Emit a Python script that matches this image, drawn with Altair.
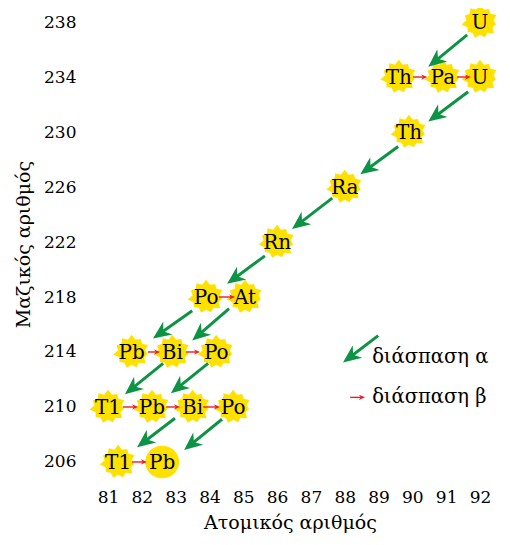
import math
import altair as alt
import pandas as pd

# ---------------- data ----------------
elements = ["U", "Th", "Pa", "U", "Th", "Ra", "Rn", "Po", "At",
            "Pb", "Bi", "Po", "T1", "Pb", "Bi", "Po", "T1", "Pb"]
atomic_no = [92.0, 89.6, 90.9, 92.0, 89.9, 88.0, 86.0, 83.9, 85.05,
             81.7, 82.9, 84.2, 81.0, 82.3, 83.5, 84.7, 81.3, 82.6]
mass_no = [238, 234, 234, 234, 230, 226, 222, 218, 218,
           214, 214, 214, 210, 210, 210, 210, 206, 206]
stable = [False] * 17 + [True]

# alpha decays: start (x1, y1) -> arrow tip (x2, y2)
alpha_x1 = [91.62, 91.65, 89.58, 87.63, 85.64, 83.49, 84.58, 82.63, 83.96, 82.98, 84.37]
alpha_y1 = [237.06, 232.93, 228.95, 225.19, 220.99, 217.00, 217.15, 213.17, 213.17, 209.18, 209.11]
alpha_x2 = [90.47, 90.47, 88.46, 86.44, 84.52, 82.33, 83.49, 81.50, 82.86, 81.86, 83.25]
alpha_y2 = [234.74, 230.76, 226.92, 222.94, 218.96, 214.98, 214.83, 210.92, 211.00, 207.08, 206.87]

# beta decays: horizontal from x1 to x2 at mass y
beta_x1 = [90.02, 91.32, 84.28, 82.18, 83.31, 81.44, 82.72, 83.81, 81.71]
beta_x2 = [90.44, 91.73, 84.76, 82.54, 83.72, 81.89, 83.13, 84.31, 82.15]
beta_y = [234, 234, 218, 214, 214, 210, 210, 210, 206]

# legend (placed in data units)
legend_labels = ["διάσπαση α", "διάσπαση β"]
legend_text_x = [88.81, 88.81]
legend_text_y = [213.6, 210.7]
legend_alpha_x1, legend_alpha_y1, legend_alpha_x2, legend_alpha_y2 = [88.99], [215.19], [87.95], [213.24]
legend_beta_x1, legend_beta_x2, legend_beta_y = [88.16], [88.60], [210.7]

x_ticks = list(range(81, 93))
y_ticks = list(range(206, 239, 4))

# ---------------- layout / style ----------------
X_DOMAIN = [80.29, 92.473]
Y_DOMAIN = [204.69, 239.02]
W, H = 412, 472
PX_X = W / (X_DOMAIN[1] - X_DOMAIN[0])
PX_Y = H / (Y_DOMAIN[1] - Y_DOMAIN[0])

FONT = "DejaVu Serif"
YELLOW = "#FFE100"
GREEN = "#0C9444"
RED = "#EE1C24"


def star_path():
    outer = [1.0, 0.9, 0.97, 0.87, 1.0, 0.92, 0.96, 0.88, 1.0, 0.9, 0.95]
    n = len(outer)
    pts = []
    for i in range(2 * n):
        a = math.pi * i / n - math.pi / 2
        r = outer[i // 2] if i % 2 == 0 else 0.74
        pts.append((r * math.cos(a), r * math.sin(a) * 0.93))
    return "M" + " L".join(f"{x:.3f},{y:.3f}" for x, y in pts) + " Z"


STAR = star_path()
OVAL = "M-0.92,0 A0.92,0.88 0 1,1 0.92,0 A0.92,0.88 0 1,1 -0.92,0 Z"
HEAD = "M0,0 L0.5,1.15 L0,0.8 L-0.5,1.15 Z"

nodes = pd.DataFrame({"el": elements, "x": atomic_no, "y": mass_no,
                      "shape": [OVAL if s else STAR for s in stable]})


def arrows(x1, y1, x2, y2, back_px):
    rows = []
    for a, b, c, d in zip(x1, y1, x2, y2):
        dx = (c - a) * PX_X
        dy = -(d - b) * PX_Y
        L = math.hypot(dx, dy)
        ux, uy = dx / L, dy / L
        ang = math.degrees(math.atan2(dx, -dy)) % 360
        ex = c - ux * back_px / PX_X
        ey = d + uy * back_px / PX_Y
        rows.append({"x": a, "y": b, "x2": ex, "y2": ey, "tx": c, "ty": d, "ang": ang})
    return pd.DataFrame(rows)


alpha = arrows(alpha_x1 + legend_alpha_x1, alpha_y1 + legend_alpha_y1,
               alpha_x2 + legend_alpha_x2, alpha_y2 + legend_alpha_y2, 9)
bx1 = beta_x1 + legend_beta_x1
bx2 = beta_x2 + legend_beta_x2
by = beta_y + legend_beta_y
beta = arrows(bx1, by, bx2, by, 3)

legend = pd.DataFrame({"label": legend_labels, "x": legend_text_x, "y": legend_text_y})

xscale = alt.Scale(domain=X_DOMAIN, nice=False, zero=False)
yscale = alt.Scale(domain=Y_DOMAIN, nice=False, zero=False)
xaxis = alt.Axis(values=x_ticks, title="Ατομικός αριθμός", domain=False, ticks=False, tickSize=0,
                 grid=False, labelFont=FONT, labelFontSize=17, labelColor="black",
                 labelPadding=9, titleFont=FONT, titleFontSize=19, titleFontWeight="normal",
                 titleColor="black", titlePadding=8, labelFlush=False)
yaxis = alt.Axis(values=y_ticks, title="Μαζικός αριθμός", domain=False, ticks=False, tickSize=0,
                 grid=False, labelFont=FONT, labelFontSize=17, labelColor="black",
                 labelPadding=8, titleFont=FONT, titleFontSize=19, titleFontWeight="normal",
                 titleColor="black", titlePadding=10, labelFlush=False)


def X(field="x"):
    return alt.X(f"{field}:Q", scale=xscale, axis=xaxis)


def Y(field="y"):
    return alt.Y(f"{field}:Q", scale=yscale, axis=yaxis)


stars = alt.Chart(nodes).mark_point(filled=True, opacity=1, size=1369, color=YELLOW,
                                    strokeWidth=0).encode(
    x=X(), y=Y(), shape=alt.Shape("shape:N", scale=None, legend=None))

alpha_shaft = alt.Chart(alpha).mark_rule(color=GREEN, strokeWidth=3).encode(
    x=X(), y=Y(), x2="x2:Q", y2="y2:Q")
alpha_head = alt.Chart(alpha).mark_point(shape=HEAD, filled=True, opacity=1, size=1000,
                                         color=GREEN, strokeWidth=0).encode(
    x=X("tx"), y=Y("ty"), angle=alt.Angle("ang:Q", scale=None))

beta_shaft = alt.Chart(beta).mark_rule(color=RED, strokeWidth=1.4).encode(
    x=X(), y=Y(), x2="x2:Q", y2="y2:Q")
beta_head = alt.Chart(beta).mark_point(shape=HEAD, filled=True, opacity=1, size=110,
                                       color=RED, strokeWidth=0).encode(
    x=X("tx"), y=Y("ty"), angle=alt.Angle("ang:Q", scale=None))

labels = alt.Chart(nodes).mark_text(font=FONT, fontSize=20, color="black",
                                    baseline="middle", align="center", dy=1).encode(
    x=X(), y=Y(), text="el:N")

legend_text = alt.Chart(legend).mark_text(font=FONT, fontSize=19.5, color="black",
                                          baseline="middle", align="left").encode(
    x=X(), y=Y(), text="label:N")

chart = alt.layer(stars, alpha_shaft, alpha_head, beta_shaft, beta_head, labels, legend_text).properties(
    width=W, height=H,
    autosize=alt.AutoSizeParams(type="none"),
    padding={"left": 76, "top": 0, "right": 6, "bottom": 57},
).configure_view(stroke=None)

chart.save("out.html", embed_options={"renderer": "svg", "actions": False})
